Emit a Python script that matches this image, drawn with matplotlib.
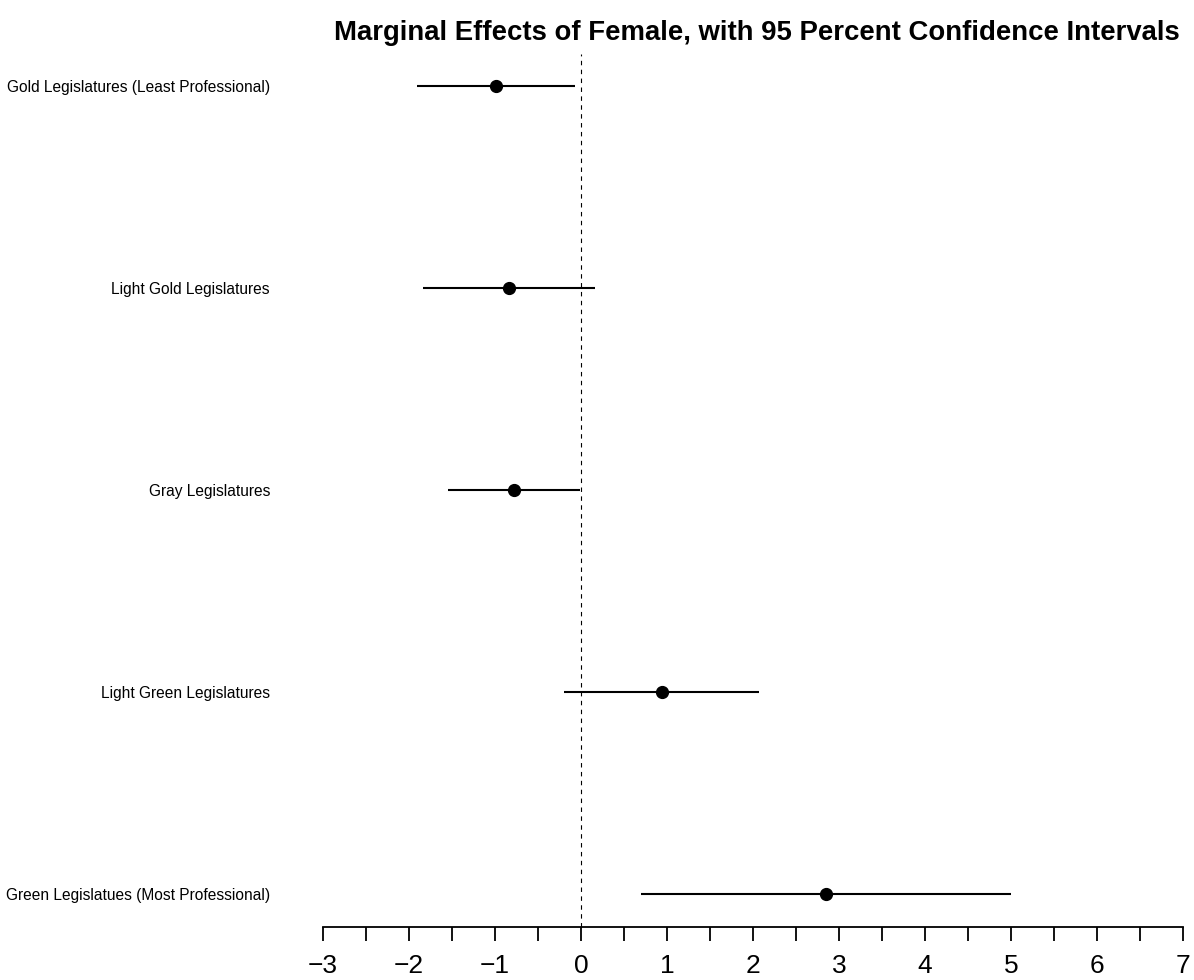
import matplotlib
matplotlib.use("Agg")
import matplotlib.pyplot as plt
import numpy as np

plt.rcParams['font.family'] = ['Liberation Sans', 'DejaVu Sans']

# estimates
groups = ["Gold Legislatures (Least Professional)",
          "Light Gold Legislatures",
          "Gray Legislatures",
          "Light Green Legislatures",
          "Green Legislatues (Most Professional)"]
estimate = [-0.99, -0.84, -0.78, 0.94, 2.85]
ci_low = [-1.90, -1.84, -1.54, -0.20, 0.70]
ci_high = [-0.07, 0.16, -0.01, 2.07, 5.00]
ypos = [5, 4, 3, 2, 1]

W, H = 1194, 980
fig = plt.figure(figsize=(W / 100, H / 100), dpi=100)
left, right = 322.7 / W, 1183.3 / W
bottom, top = 1 - 926.5 / H, 1 - 53.7 / H
ax = fig.add_axes([left, bottom, right - left, top - bottom])

# confidence intervals and point estimates
ax.hlines(ypos, ci_low, ci_high, color='black', lw=1.5)
ax.plot(estimate, ypos, 'o', color='black', ms=8.5, clip_on=False)
ax.axvline(0, color='black', lw=0.8, ls=(0, (4, 4)))

ax.set_xlim(-3, 7)
ax.set_ylim(0.84, 5.16)

for s in ['top', 'right', 'left']:
    ax.spines[s].set_visible(False)
ax.spines['bottom'].set_bounds(-3, 7)
ax.spines['bottom'].set_linewidth(1.3)

ticks = np.arange(-3, 7.5, 0.5)
ax.set_xticks(ticks)
ax.set_xticklabels([str(int(t)).replace('-', '\u2212') if t == int(t) else '' for t in ticks])
ax.tick_params(axis='x', length=10, width=1.3, labelsize=19, pad=10)

ax.set_yticks(ypos)
ax.set_yticklabels(groups)
ax.tick_params(axis='y', length=0, labelsize=11.2, pad=38)

fig.text(757 / W, 1 - 33 / H,
         "Marginal Effects of Female, with 95 Percent Confidence Intervals",
         ha='center', va='center', fontsize=19.8, fontweight='bold')

fig.savefig("out.png", dpi=100)
